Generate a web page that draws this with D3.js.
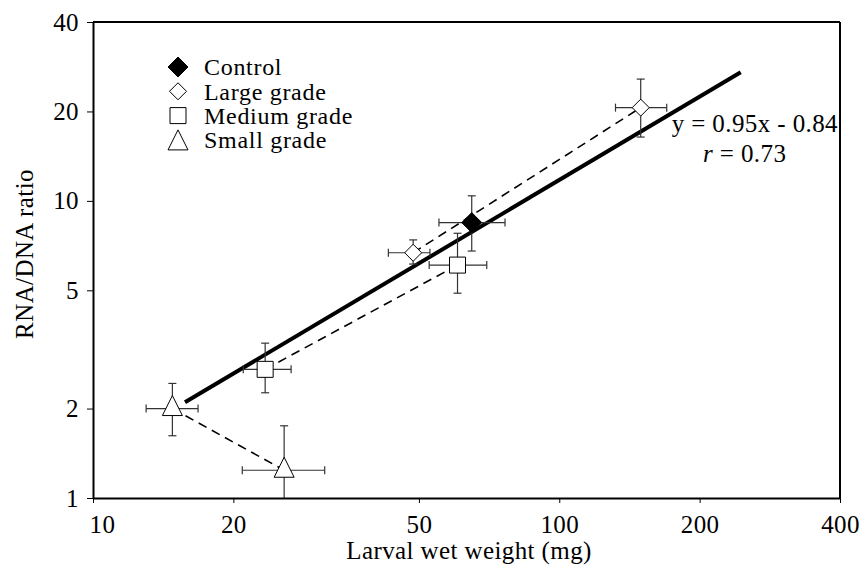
<!DOCTYPE html>
<html>
<head>
<meta charset="utf-8">
<script src="https://cdn.jsdelivr.net/npm/d3@7"></script>
<style>
  body { margin: 0; background: #fff; }
  text { font-family: "Liberation Serif", "Times New Roman", serif; fill: #000; letter-spacing: 0.4px; }
</style>
</head>
<body>
<div id="chart"></div>
<script>
// group order, marker shapes
var groups = ["Control", "Large grade", "Medium grade", "Small grade"];
var shapes = ["diamondFilled", "diamond", "square", "triangle"];

// points: group, x (mg), y (ratio), x low/high, y low/high
var ptGroup = ["Control", "Large grade", "Large grade", "Medium grade", "Medium grade", "Small grade", "Small grade"];
var ptX     = [64.9, 48.6, 149.5, 23.4, 60.5, 14.8, 25.7];
var ptY     = [8.45, 6.69, 20.6, 2.71, 6.08, 2.0, 1.24];
var ptXLo   = [55.2, 43.0, 132, 21.0, 52.6, 13.0, 20.9];
var ptXHi   = [76.5, 52.8, 170, 26.6, 69.9, 16.8, 31.4];
var ptYLo   = [6.78, 6.13, 16.4, 2.26, 4.89, 1.62, 0.85];
var ptYHi   = [10.4, 7.39, 25.7, 3.32, 7.78, 2.43, 1.75];

// regression line end points, as drawn
var fitX = [15.75, 245];
var fitY = [2.10, 27.1];

var xTicks = [10, 20, 50, 100, 200, 400];
var yTicks = [1, 2, 5, 10, 20, 40];

var width = 861, height = 568;
var margin = {left: 93, right: 21, top: 22, bottom: 70};
var fontSize = "25px";

var svg = d3.select("#chart").append("svg")
    .attr("width", width)
    .attr("height", height);

var x = d3.scaleLog().domain([10, 400]).range([margin.left, width - margin.right]);
var y = d3.scaleLog().domain([1, 40]).range([height - margin.bottom, margin.top]);

svg.append("clipPath").attr("id", "plotclip")
    .append("rect")
    .attr("x", x(10)).attr("y", y(40))
    .attr("width", x(400) - x(10)).attr("height", y(1) - y(40));

function markerPath(shape) {
    var r;
    if (shape == "diamondFilled") { r = 10; return "M0," + (-r) + "L" + r + ",0L0," + r + "L" + (-r) + ",0Z"; }
    if (shape == "diamond") { r = 8.5; return "M0," + (-r) + "L" + r + ",0L0," + r + "L" + (-r) + ",0Z"; }
    if (shape == "square") { r = 8; return "M" + (-r) + "," + (-r) + "H" + r + "V" + r + "H" + (-r) + "Z"; }
    return "M0,-13L10,7L-10,7Z";
}
function shapeOf(g) { return shapes[groups.indexOf(g)]; }

var points = ptX.map(function(v, i) {
    return {g: ptGroup[i], x: v, y: ptY[i], xlo: ptXLo[i], xhi: ptXHi[i], ylo: ptYLo[i], yhi: ptYHi[i]};
});

var plot = svg.append("g").attr("clip-path", "url(#plotclip)");

// dashed connectors between the two points of each grade
["Large grade", "Medium grade", "Small grade"].forEach(function(g) {
    var pp = points.filter(function(d) { return d.g == g; });
    plot.append("line")
        .attr("x1", x(pp[0].x)).attr("y1", y(pp[0].y))
        .attr("x2", x(pp[1].x)).attr("y2", y(pp[1].y))
        .style("stroke", "#000")
        .style("stroke-width", 1.6)
        .style("stroke-dasharray", "9,6");
});

// regression line
plot.append("line")
    .attr("x1", x(fitX[0])).attr("y1", y(fitY[0]))
    .attr("x2", x(fitX[1])).attr("y2", y(fitY[1]))
    .style("stroke", "#000")
    .style("stroke-width", 4);

// error bars
var cap = 4;
var eb = plot.append("g").style("stroke", "#333").style("stroke-width", 1.2);
points.forEach(function(d) {
    var cx = x(d.x), cy = y(d.y);
    eb.append("line").attr("x1", cx).attr("x2", cx).attr("y1", y(d.ylo)).attr("y2", y(d.yhi));
    eb.append("line").attr("x1", x(d.xlo)).attr("x2", x(d.xhi)).attr("y1", cy).attr("y2", cy);
    eb.append("line").attr("x1", cx - cap).attr("x2", cx + cap).attr("y1", y(d.ylo)).attr("y2", y(d.ylo));
    eb.append("line").attr("x1", cx - cap).attr("x2", cx + cap).attr("y1", y(d.yhi)).attr("y2", y(d.yhi));
    eb.append("line").attr("y1", cy - cap).attr("y2", cy + cap).attr("x1", x(d.xlo)).attr("x2", x(d.xlo));
    eb.append("line").attr("y1", cy - cap).attr("y2", cy + cap).attr("x1", x(d.xhi)).attr("x2", x(d.xhi));
});

// markers
svg.append("g").selectAll("path")
    .data(points)
    .enter().append("path")
    .attr("d", function(d) { return markerPath(shapeOf(d.g)); })
    .attr("transform", function(d) { return "translate(" + x(d.x) + "," + y(d.y) + ")"; })
    .style("fill", function(d) { return shapeOf(d.g) == "diamondFilled" ? "#000" : "#fff"; })
    .style("stroke", "#000")
    .style("stroke-width", 1);

// axes
var xAxis = svg.append("g")
    .attr("transform", "translate(0," + y(1) + ")")
    .call(d3.axisBottom(x).tickValues(xTicks).tickFormat(d3.format("d")).tickSize(5).tickSizeOuter(0));
xAxis.selectAll("text")
    .attr("y", 35)
    .attr("dy", 0)
    .style("font-size", fontSize)
    .attr("dx", function(d) { return d == 10 ? 9 : 0; });

var yAxis = svg.append("g")
    .attr("transform", "translate(" + x(10) + ",0)")
    .call(d3.axisLeft(y).tickValues(yTicks).tickFormat(d3.format("d")).tickSize(6).tickSizeOuter(0));
yAxis.selectAll("text")
    .attr("x", -14)
    .style("font-size", fontSize);

svg.selectAll(".domain").style("stroke", "#000").style("stroke-width", 2);
svg.selectAll(".tick line").style("stroke", "#000").style("stroke-width", 1);

// top and right frame
svg.append("line").attr("x1", x(10)).attr("x2", x(400)).attr("y1", y(40)).attr("y2", y(40))
    .style("stroke", "#000").style("stroke-width", 2);
svg.append("line").attr("x1", x(400)).attr("x2", x(400)).attr("y1", y(40)).attr("y2", y(1))
    .style("stroke", "#000").style("stroke-width", 2);

// axis titles
svg.append("text")
    .attr("x", 469)
    .attr("y", 559)
    .attr("text-anchor", "middle")
    .style("font-size", fontSize)
    .text("Larval wet weight (mg)");

svg.append("text")
    .attr("transform", "translate(33,254) rotate(-90)")
    .attr("text-anchor", "middle")
    .style("font-size", fontSize)
    .text("RNA/DNA ratio");

// legend
var legend = svg.append("g").attr("transform", "translate(178,67)");
var row = legend.selectAll("g")
    .data(groups)
    .enter().append("g")
    .attr("transform", function(d, i) { return "translate(0," + (i * 24.3) + ")"; });
row.append("path")
    .attr("d", function(d, i) { return markerPath(shapes[i]); })
    .attr("transform", function(d, i) { return shapes[i] == "triangle" ? "translate(0,3)" : null; })
    .style("fill", function(d, i) { return shapes[i] == "diamondFilled" ? "#000" : "#fff"; })
    .style("stroke", "#000")
    .style("stroke-width", 1);
row.append("text")
    .attr("x", 26)
    .attr("dy", "0.35em")
    .style("font-size", "24px")
    .style("letter-spacing", "0.7px")
    .text(function(d) { return d; });

// fit annotation
svg.append("text")
    .attr("x", 838)
    .attr("y", 132)
    .attr("text-anchor", "end")
    .style("font-size", fontSize)
    .text("y = 0.95x - 0.84");
var rt = svg.append("text")
    .attr("x", 703)
    .attr("y", 162)
    .style("font-size", fontSize);
rt.append("tspan").style("font-style", "italic").text("r");
rt.append("tspan").text(" = 0.73");
</script>
</body>
</html>
